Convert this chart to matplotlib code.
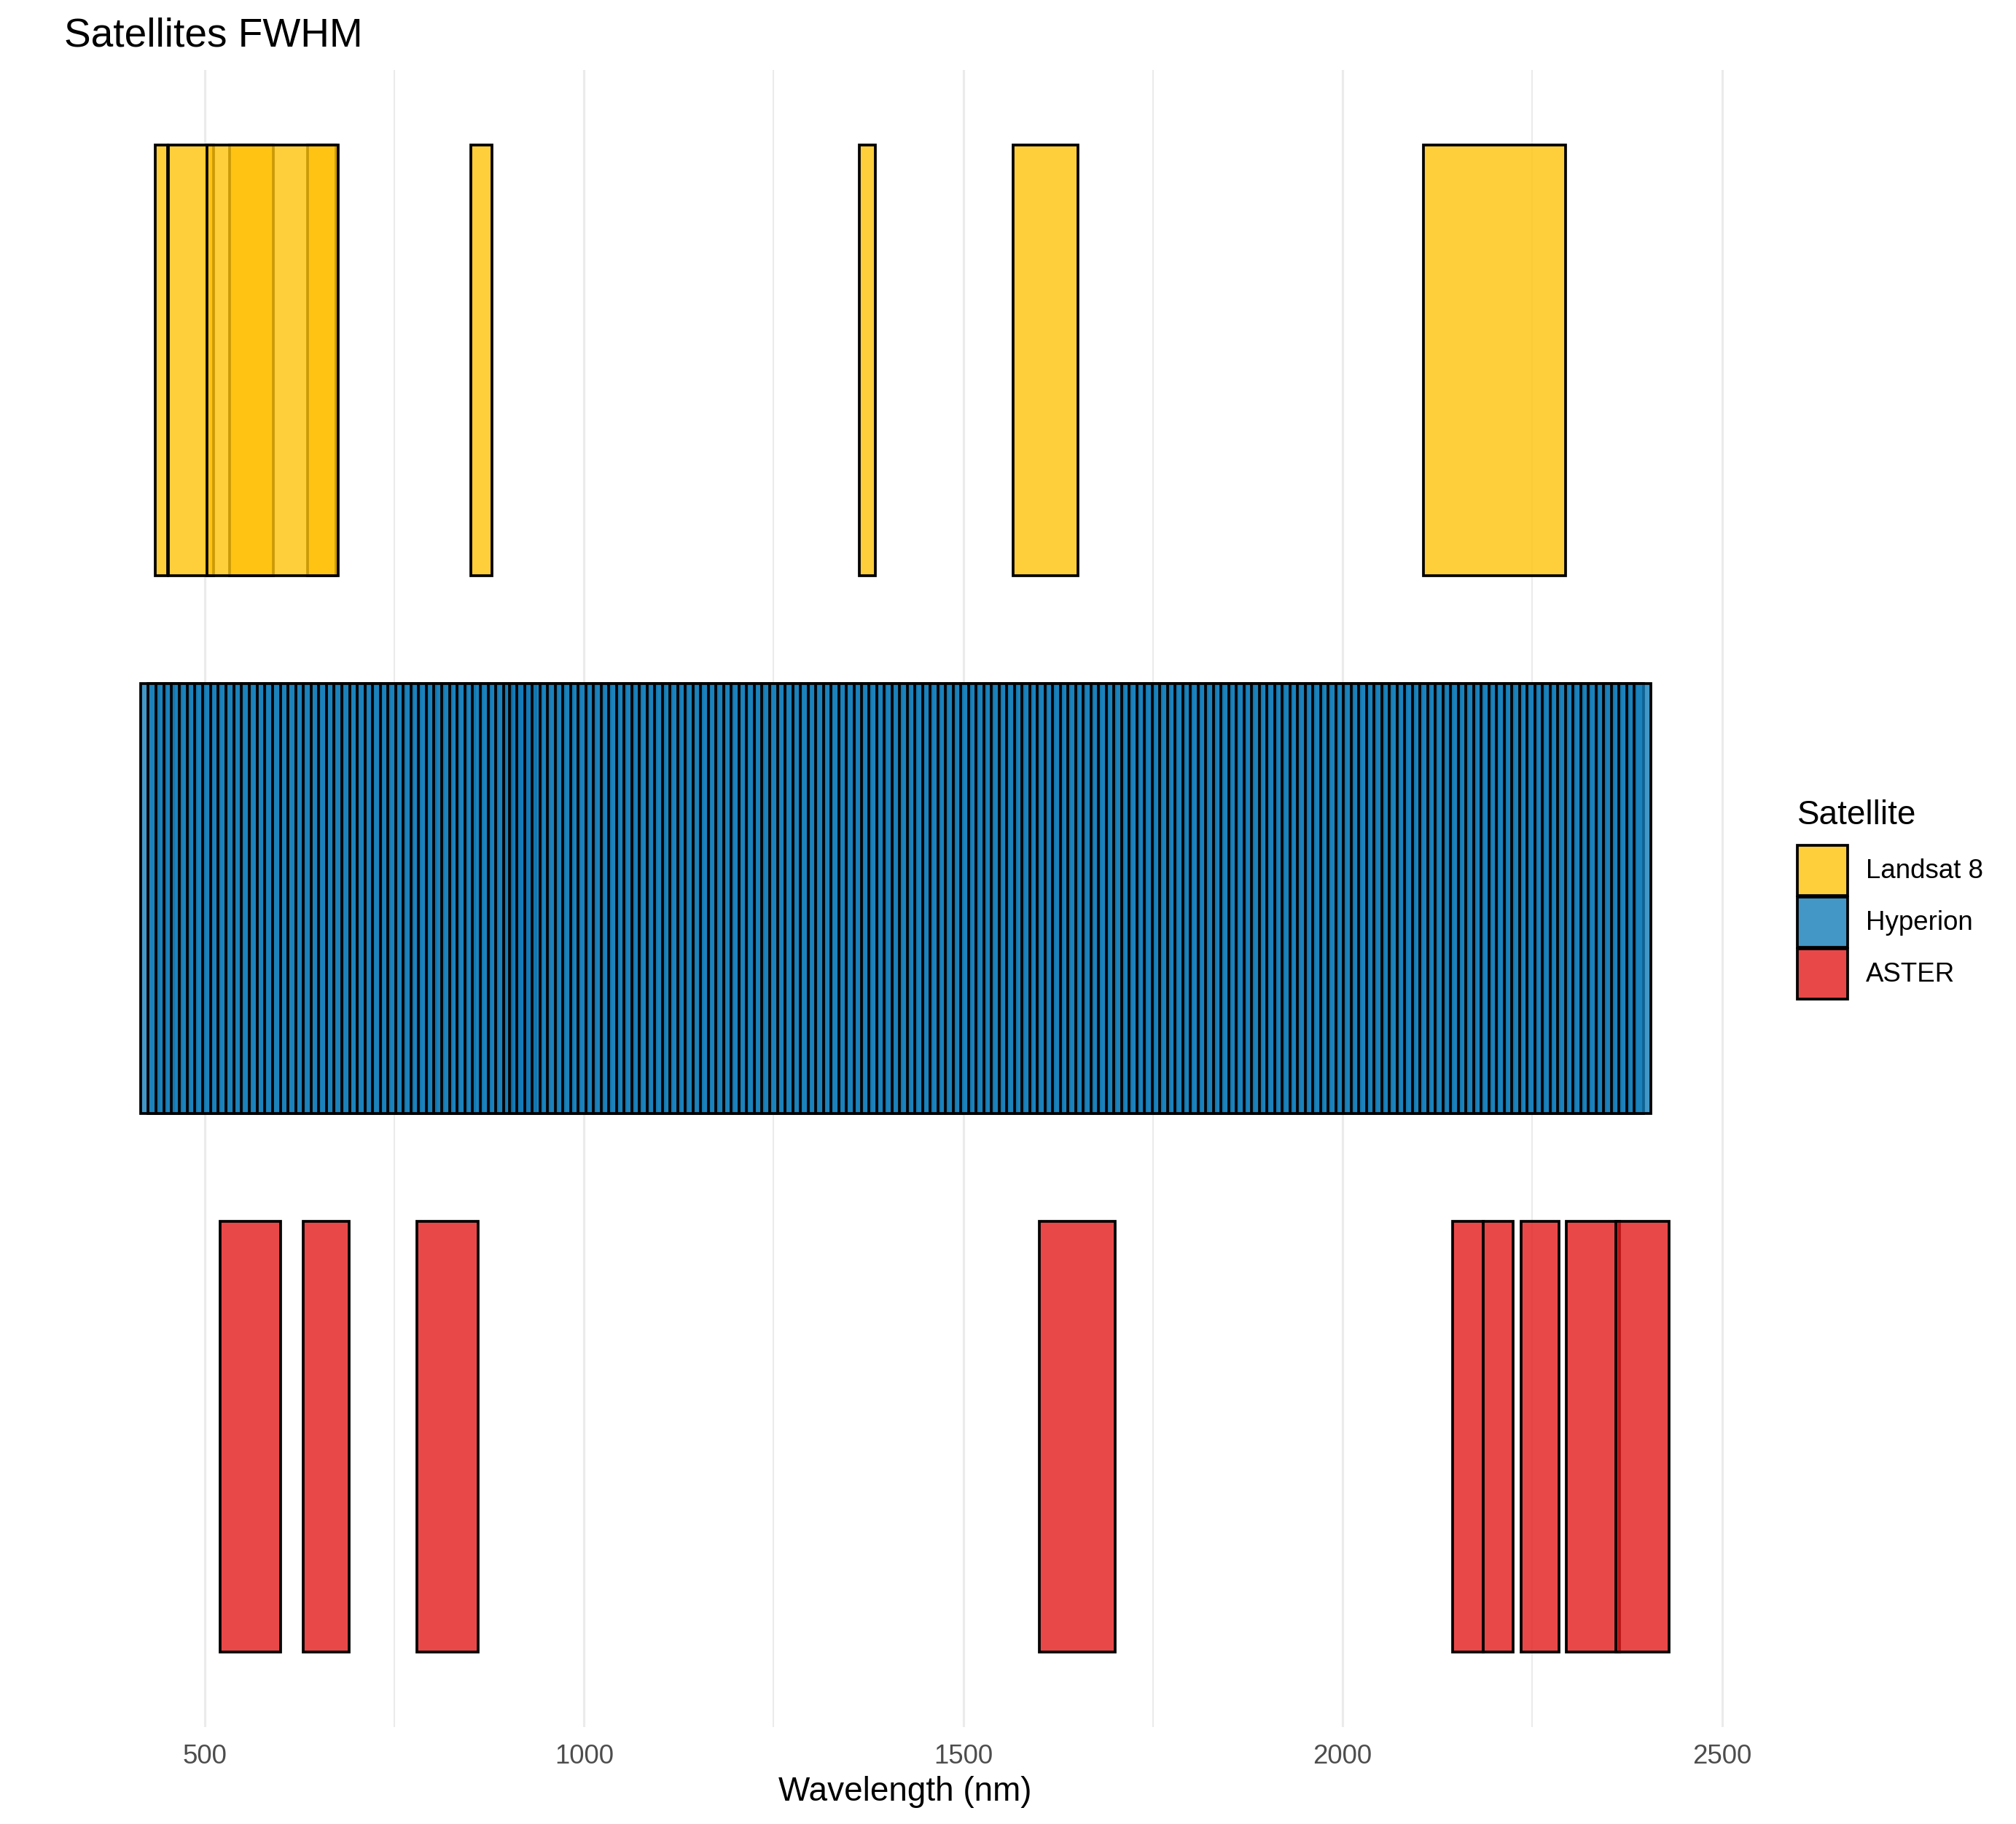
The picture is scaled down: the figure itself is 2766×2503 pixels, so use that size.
import matplotlib
matplotlib.use('Agg')
import matplotlib.pyplot as plt
from matplotlib.patches import Rectangle
from matplotlib.colors import to_rgba

plt.rcParams['font.family'] = ['Liberation Sans', 'DejaVu Sans']

# ---------------- data ----------------
satellites = ['Landsat 8', 'Hyperion', 'ASTER']
sat_colors = ['#FFC20A', '#137DB9', '#E41A1C']
fill_alpha = 0.8

# Landsat 8 OLI bands (FWHM limits, nm): B1..B9
landsat_min = [435, 452, 533, 636, 851, 1566, 2107, 503, 1363]
landsat_max = [451, 512, 590, 673, 879, 1651, 2294, 676, 1384]

# Hyperion band centres (VNIR 8-57, SWIR 77-224) and FWHM (nm)
hyperion_center = [
    426.82, 436.99, 447.17, 457.34, 467.52, 477.69, 487.87, 498.04, 508.22, 518.39,
    528.57, 538.74, 548.92, 559.09, 569.27, 579.45, 589.62, 599.80, 609.97, 620.15,
    630.32, 640.50, 650.67, 660.85, 671.02, 681.20, 691.37, 701.55, 711.72, 721.90,
    732.07, 742.25, 752.43, 762.60, 772.78, 782.95, 793.13, 803.30, 813.48, 823.65,
    833.83, 844.00, 854.18, 864.35, 874.53, 884.70, 894.88, 905.05, 915.23, 925.41,
    912.45, 922.54, 932.64, 942.73, 952.82, 962.91, 972.99, 983.08, 993.17, 1003.30,
    1013.30, 1023.40, 1033.49, 1043.59, 1053.69, 1063.79, 1073.89, 1083.99, 1094.09, 1104.19,
    1114.19, 1124.28, 1134.38, 1144.48, 1154.58, 1164.68, 1174.77, 1184.87, 1194.97, 1205.07,
    1215.17, 1225.17, 1235.27, 1245.36, 1255.46, 1265.56, 1275.66, 1285.76, 1295.86, 1305.96,
    1316.05, 1326.05, 1336.15, 1346.25, 1356.35, 1366.45, 1376.55, 1386.65, 1396.74, 1406.84,
    1416.94, 1426.94, 1437.04, 1447.14, 1457.23, 1467.33, 1477.43, 1487.53, 1497.63, 1507.73,
    1517.83, 1527.92, 1537.92, 1548.02, 1558.12, 1568.22, 1578.32, 1588.42, 1598.51, 1608.61,
    1618.71, 1628.81, 1638.81, 1648.90, 1659.00, 1669.10, 1679.20, 1689.30, 1699.40, 1709.50,
    1719.60, 1729.70, 1739.70, 1749.79, 1759.89, 1769.99, 1780.09, 1790.19, 1800.29, 1810.38,
    1820.48, 1830.58, 1840.58, 1850.68, 1860.78, 1870.87, 1880.98, 1891.07, 1901.17, 1911.27,
    1921.37, 1931.47, 1941.57, 1951.57, 1961.66, 1971.76, 1981.86, 1991.96, 2002.06, 2012.15,
    2022.25, 2032.35, 2042.45, 2052.45, 2062.55, 2072.65, 2082.75, 2092.84, 2102.94, 2113.04,
    2123.14, 2133.24, 2143.34, 2153.34, 2163.43, 2173.53, 2183.63, 2193.73, 2203.83, 2213.93,
    2224.03, 2234.12, 2244.22, 2254.22, 2264.32, 2274.42, 2284.52, 2294.61, 2304.71, 2314.81,
    2324.91, 2335.01, 2345.11, 2355.21, 2365.20, 2375.30, 2385.40, 2395.50,
]
hyperion_fwhm = [
    11.3871, 11.3871, 11.3784, 11.3538, 11.3133, 11.2580, 11.1907, 11.1119, 11.0245, 10.9321,
    10.8368, 10.7407, 10.6482, 10.5607, 10.4823, 10.4147, 10.3595, 10.3188, 10.2942, 10.2856,
    10.2980, 10.3349, 10.3909, 10.4592, 10.5322, 10.6004, 10.6562, 10.6933, 10.7058, 10.7276,
    10.7907, 10.8833, 10.9938, 11.1044, 11.1980, 11.2600, 11.2824, 11.2822, 11.2816, 11.2809,
    11.2797, 11.2782, 11.2771, 11.2765, 11.2756, 11.2754, 11.2754, 11.2754, 11.2754, 11.2754,
    11.0457, 11.0457, 11.0457, 11.0457, 11.0457, 11.0457, 11.0457, 11.0457, 11.0457, 11.0457,
    11.0451, 11.0423, 11.0372, 11.0302, 11.0218, 11.0122, 11.0013, 10.9871, 10.9732, 10.9572,
    10.9418, 10.9248, 10.9065, 10.8884, 10.8696, 10.8513, 10.8335, 10.8154, 10.7979, 10.7822,
    10.7663, 10.7520, 10.7385, 10.7270, 10.7174, 10.7091, 10.7022, 10.6970, 10.6946, 10.6937,
    10.6949, 10.6996, 10.7058, 10.7163, 10.7283, 10.7437, 10.7612, 10.7807, 10.7965, 10.8209,
    10.8415, 10.8687, 10.8925, 10.9188, 10.9466, 10.9707, 10.9912, 11.0101, 11.0244, 11.0319,
    11.0348, 11.0345, 11.0352, 11.0369, 11.0390, 11.0416, 11.0445, 11.0480, 11.0520, 11.0559,
    11.0591, 11.0613, 11.0626, 11.0630, 11.0627, 11.0613, 11.0589, 11.0560, 11.0525, 11.0486,
    11.0440, 11.0396, 11.0343, 11.0289, 11.0237, 11.0184, 11.0127, 11.0068, 11.0015, 10.9961,
    10.9906, 10.9852, 10.9800, 10.9749, 10.9696, 10.9651, 10.9604, 10.9555, 10.9510, 10.9466,
    10.9425, 10.9385, 10.9345, 10.9309, 10.9272, 10.9240, 10.9208, 10.9180, 10.9151, 10.9127,
    10.9103, 10.9083, 10.9061, 10.9045, 10.9031, 10.9018, 10.9008, 10.9000, 10.8992, 10.8989,
    10.8987, 10.8988, 10.8991, 10.8997, 10.9005, 10.9014, 10.9025, 10.9039, 10.9055, 10.9074,
    10.9096, 10.9121, 10.9147, 10.9174, 10.9206, 10.9234, 10.9265, 10.9298, 10.9331, 10.9366,
    10.9404, 10.9439, 10.9477, 10.9516, 10.9554, 10.9591, 10.9630, 10.9668,
]

# ASTER VNIR/SWIR bands (nm)
aster_min = [520, 630, 780, 1600, 2145, 2185, 2235, 2295, 2360]
aster_max = [600, 690, 860, 1700, 2185, 2225, 2285, 2365, 2430]

x_ticks = [500, 1000, 1500, 2000, 2500]
x_minor = [750, 1250, 1750, 2250]

# ---------------- figure ----------------
W, H, DPI = 2766, 2504, 300
fig = plt.figure(figsize=(W / DPI, H / DPI), dpi=DPI)
fig.patch.set_facecolor('white')

left_px, right_px, top_px, bottom_px = 88, 2394.5, 97, 2371
ax = fig.add_axes([left_px / W, 1 - bottom_px / H,
                   (right_px - left_px) / W, (bottom_px - top_px) / H])

hyp_min = [c - f for c, f in zip(hyperion_center, hyperion_fwhm)]
hyp_max = [c + f for c, f in zip(hyperion_center, hyperion_fwhm)]

series = [(landsat_min, landsat_max), (hyp_min, hyp_max), (aster_min, aster_max)]
ypos = [3, 2, 1]
half_h = 0.4
edge_lw = 0.9

for (mins, maxs), y, col in zip(series, ypos, sat_colors):
    widths = [b - a for a, b in zip(mins, maxs)]
    ax.bar(mins, 2 * half_h, width=widths, bottom=y - half_h, align='edge',
           facecolor=to_rgba(col, fill_alpha), edgecolor='black',
           linewidth=edge_lw, zorder=3)

all_min = min(min(s[0]) for s in series)
all_max = max(max(s[1]) for s in series)
xpad = 0.05 * (all_max - all_min)
ax.set_xlim(all_min - xpad, all_max + xpad)
ylo, yhi = min(ypos) - half_h, max(ypos) + half_h
ypad = 0.05 * (yhi - ylo)
ax.set_ylim(ylo - ypad, yhi + ypad)

ax.set_xticks(x_ticks)
ax.set_xticks(x_minor, minor=True)
ax.set_yticks([])
ax.grid(which='major', axis='x', color='#EBEBEB', linewidth=0.75, zorder=0)
ax.grid(which='minor', axis='x', color='#EBEBEB', linewidth=0.5, zorder=0)
ax.set_axisbelow(True)
for s in ax.spines.values():
    s.set_visible(False)
ax.tick_params(axis='x', which='both', length=0, pad=5.2,
               labelsize=8.8, labelcolor='#4D4D4D')
ax.set_xlabel('Wavelength (nm)', fontsize=11, color='black', labelpad=2.2)

fig.text(left_px / W, 1 - 64 / H, 'Satellites FWHM', fontsize=13.2,
         ha='left', va='baseline', color='black')

# ---------------- legend ----------------
leg_x = 2466
fig.text(leg_x / W, 1 - 1131 / H, 'Satellite', fontsize=11,
         ha='left', va='baseline', color='black')
key = 69
key_tops = [1161, 1232, 1303]
for name, col, kt in zip(satellites, sat_colors, key_tops):
    r = Rectangle((leg_x / W, 1 - (kt + key) / H), key / W, key / H,
                  transform=fig.transFigure, facecolor=to_rgba(col, fill_alpha),
                  edgecolor='black', linewidth=edge_lw)
    fig.add_artist(r)
    fig.text(2560 / W, 1 - (kt + key / 2) / H, name, fontsize=8.8,
             ha='left', va='center', color='black')

fig.savefig('out.png', dpi=DPI, facecolor='white')
